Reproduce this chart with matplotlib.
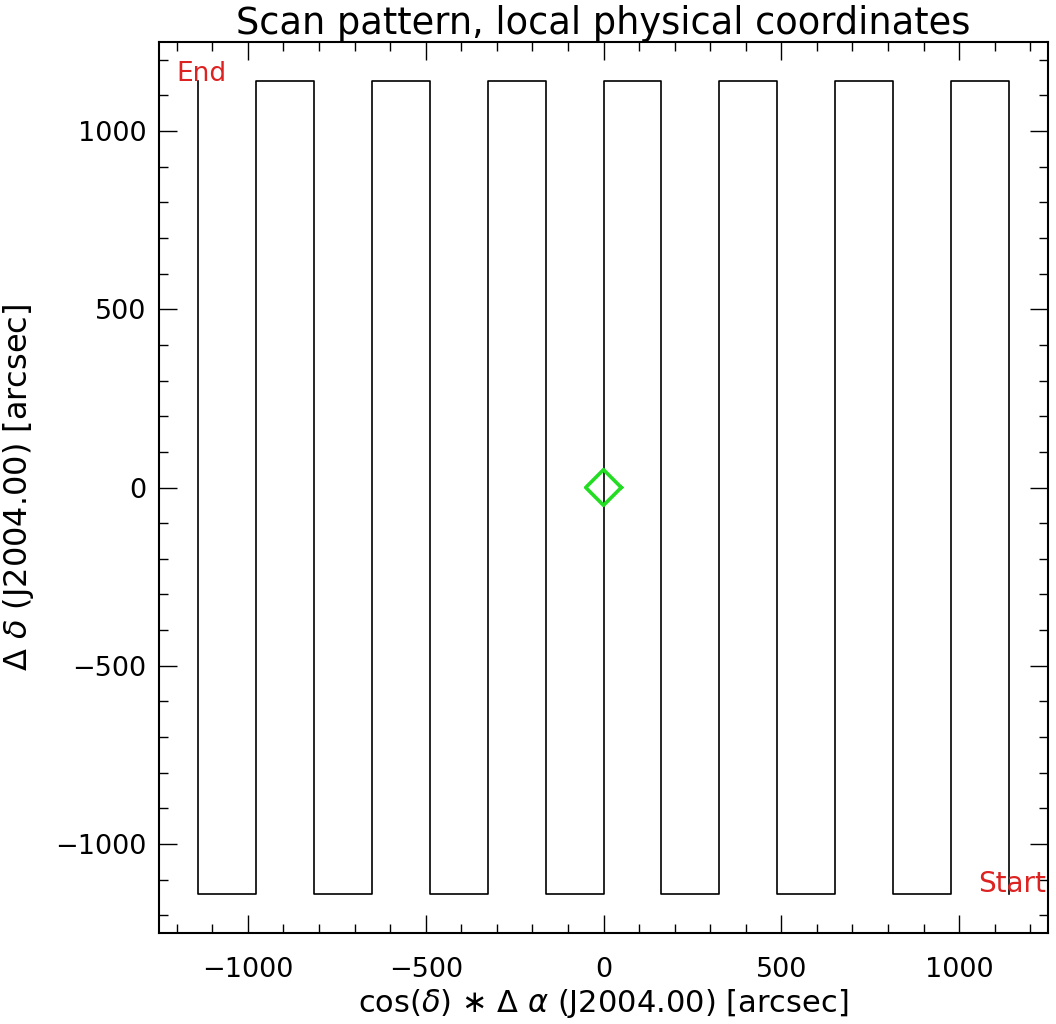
import matplotlib
matplotlib.use("Agg")
import matplotlib.pyplot as plt
from matplotlib.ticker import MultipleLocator

# Scan leg x positions (arcsec), in scan order (start at right)
leg_x = [1140, 977, 814, 651, 489, 326, 163, 0, -163, -326, -489, -651, -814, -977, -1140]
y_low = -1140
y_high = 1140
# Marker (source position) diamond
src_x = [50, 0, -50, 0, 50]
src_y = [0, 50, 0, -50, 0]

xs, ys = [], []
for i, x in enumerate(leg_x):
    if i % 2 == 0:
        xs += [x, x]; ys += [y_low, y_high]
    else:
        xs += [x, x]; ys += [y_high, y_low]

plt.rcParams['font.family'] = ['DejaVu Sans']
plt.rcParams['mathtext.fontset'] = 'dejavusans'

fig = plt.figure(figsize=(10.56, 10.24), dpi=100)
ax = fig.add_axes([159/1056, 1 - 933/1024, (1048-159)/1056, (933-42)/1024])
ax.plot(xs, ys, color='black', lw=1.2)
ax.plot(src_x, src_y, color='#22dd22', lw=2.6)

ax.set_xlim(-1250, 1250)
ax.set_ylim(-1250, 1250)
ax.xaxis.set_major_locator(MultipleLocator(500))
ax.xaxis.set_minor_locator(MultipleLocator(100))
ax.yaxis.set_major_locator(MultipleLocator(500))
ax.yaxis.set_minor_locator(MultipleLocator(100))
ax.tick_params(which='both', direction='in', top=True, right=True, labelsize=19.5, width=1.0, color='black')
ax.tick_params(which='major', length=13)
ax.tick_params(which='minor', length=6.5)
ax.tick_params(axis='x', which='major', pad=17)
ax.tick_params(axis='y', which='major', pad=9)
for s in ax.spines.values():
    s.set_linewidth(1.5)

ax.text(-1200, 1160, 'End', color='#dd2222', fontsize=19, ha='left', va='center')
ax.text(1245, -1112, 'Start', color='#dd2222', fontsize=20, ha='right', va='center')

ax.set_title('Scan pattern, local physical coordinates', fontsize=26.5, pad=1)
ax.set_xlabel(r'cos($\delta$) $\ast$ $\Delta$ $\alpha$ (J2004.00) [arcsec]', fontsize=22, labelpad=3)
ax.set_ylabel(r'$\Delta$ $\delta$ (J2004.00) [arcsec]', fontsize=23, labelpad=14)

fig.savefig('out.png', dpi=100)
